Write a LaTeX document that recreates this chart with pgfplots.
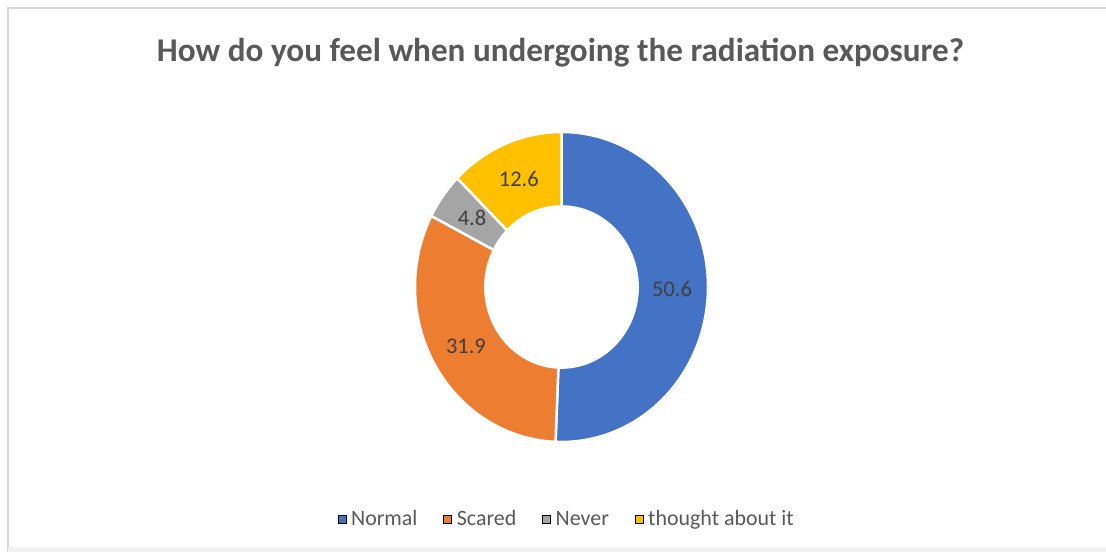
\documentclass[border=0pt]{standalone}
\usepackage{pgfplots}
\pgfplotsset{compat=1.18}
\usepackage{pgfplotstable}
\usepackage{fontspec}
\setmainfont{Carlito}
\definecolor{c0}{HTML}{4472C4}
\definecolor{c1}{HTML}{ED7D31}
\definecolor{c2}{HTML}{A5A5A5}
\definecolor{c3}{HTML}{FFC000}
\definecolor{titlegray}{HTML}{595959}
\definecolor{labelgray}{HTML}{404040}

\pgfplotstableread{
label value
Normal 50.6
Scared 31.9
Never 4.8
{thought about it} 12.6
}\datatable

\def\rx{146.5}
\def\ry{155}
\def\hole{0.52}
\def\lab{0.755}

% ---- angles computed from the table (in the preamble, no stray spaces) ----
\xdef\total{0}
\pgfplotsforeachungrouped \i in {0,...,3}{%
  \pgfplotstablegetelem{\i}{value}\of\datatable
  \pgfmathsetmacro\tmp{\total+\pgfplotsretval}%
  \xdef\total{\tmp}%
}
\xdef\startang{90}
\pgfplotsforeachungrouped \i in {0,...,3}{%
  \pgfplotstablegetelem{\i}{value}\of\datatable
  \expandafter\xdef\csname val\i\endcsname{\pgfplotsretval}%
  \pgfmathsetmacro\sweep{\pgfplotsretval/\total*360}%
  \pgfmathsetmacro\endang{\startang-\sweep}%
  \pgfmathsetmacro\midang{\startang-\sweep/2}%
  \expandafter\xdef\csname angS\i\endcsname{\startang}%
  \expandafter\xdef\csname angE\i\endcsname{\endang}%
  \expandafter\xdef\csname angM\i\endcsname{\midang}%
  \xdef\startang{\endang}%
}
\pgfmathsetmacro\irx{\hole*\rx}
\pgfmathsetmacro\iry{\hole*\ry}
\pgfmathsetmacro\lrx{\lab*\rx}
\pgfmathsetmacro\lry{\lab*\ry}

\begin{document}%
\begin{tikzpicture}
\fill[white, use as bounding box] (0,0) rectangle (1106bp,552bp);
\draw[black!15, line width=2bp] (7.5bp,0bp) -- (7.5bp,544bp) -- (1106bp,544bp);
\fill[black!5] (7.5bp,0bp) rectangle (1106bp,5bp);
\node[anchor=base, text=titlegray, font=\fontsize{33.3}{38}\selectfont\bfseries] at (560.5bp,490.5bp) {How do you feel when undergoing the radiation exposure?};
\begin{axis}[
  at={(561.5bp,265bp)}, anchor=center,
  scale only axis, width=293bp, height=310bp,
  xmin=-1, xmax=1, ymin=-1, ymax=1,
  hide axis, clip=false,
  legend columns=4,
  legend image code/.code={\fill[#1] (0bp,-4bp) rectangle (8bp,4bp);},
  legend style={at={(0.518,-0.248)}, anchor=center, draw=none, fill=none,
    font=\fontsize{22}{25}\selectfont, text=titlegray,
    /tikz/every even column/.append style={column sep=24bp},
    /tikz/every odd column/.append style={column sep=3bp}},
]
\pgfplotsextra{
  \foreach \i in {0,...,3}{
    \edef\a{\csname angS\i\endcsname}
    \edef\b{\csname angE\i\endcsname}
    \edef\m{\csname angM\i\endcsname}
    \fill[c\i, draw=white, line width=2.5bp, line join=round]
      ([shift={(\a:\rx bp and \ry bp)}]axis cs:0,0)
        arc[start angle=\a, end angle=\b, x radius=\rx bp, y radius=\ry bp]
      -- ([shift={(\b:\irx bp and \iry bp)}]axis cs:0,0)
        arc[start angle=\b, end angle=\a, x radius=\irx bp, y radius=\iry bp]
      -- cycle;
    \node[text=labelgray, font=\fontsize{22.5}{26}\selectfont] at ([shift={(\m:\lrx bp and \lry bp)}]axis cs:0,0) {\csname val\i\endcsname};
  }
}
\addlegendimage{fill=c0}\addlegendentry{Normal}
\addlegendimage{fill=c1}\addlegendentry{Scared}
\addlegendimage{fill=c2}\addlegendentry{Never}
\addlegendimage{fill=c3}\addlegendentry{thought about it}
\end{axis}
\end{tikzpicture}%
\end{document}
